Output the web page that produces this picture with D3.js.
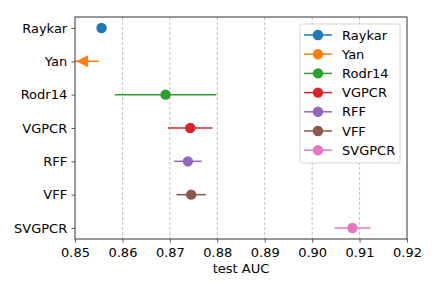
<!DOCTYPE html>
<html>
<head>
<meta charset="utf-8">
<script src="https://cdn.jsdelivr.net/npm/d3@7"></script>
<style>
  body { margin: 0; background: #fff; }
  text { font-family: "DejaVu Sans", sans-serif; }
</style>
</head>
<body>
<svg id="chart" width="436" height="291"></svg>
<script>
// data
const methods = ["Raykar", "Yan", "Rodr14", "VGPCR", "RFF", "VFF", "SVGPCR"];
const meanAUC = [0.8556, 0.8515, 0.8691, 0.8743, 0.8738, 0.8745, 0.9085];
const errAUC  = [0.0004, 0.0035, 0.0107, 0.0047, 0.0029, 0.0031, 0.0038];
const xTicks = [0.85, 0.86, 0.87, 0.88, 0.89, 0.90, 0.91, 0.92];
const colors = ["#1f77b4", "#ff7f0e", "#2ca02c", "#d62728", "#9467bd", "#8c564b", "#e377c2"];

const margin = { top: 17, right: 29, bottom: 52, left: 75 };
const width = 436, height = 291;
const svg = d3.select("#chart");

const x = d3.scaleLinear().domain([0.85, 0.92])
    .range([margin.left, width - margin.right]);
const y = d3.scalePoint().domain(methods)
    .range([margin.top, height - margin.bottom]).padding(0.33);

const rows = methods.map((m, i) => ({ name: m, mean: meanAUC[i], err: errAUC[i], color: colors[i] }));

// grid
svg.append("g").selectAll("line")
    .data(xTicks.slice(1, -1))
    .join("line")
    .attr("x1", d => x(d)).attr("x2", d => x(d))
    .attr("y1", margin.top).attr("y2", height - margin.bottom)
    .attr("stroke", "#b0b0b0").attr("stroke-width", 0.8)
    .attr("stroke-dasharray", "3,2");

// clip for marks
svg.append("clipPath").attr("id", "clip")
  .append("rect")
    .attr("x", margin.left).attr("y", margin.top)
    .attr("width", width - margin.left - margin.right)
    .attr("height", height - margin.top - margin.bottom);

const marks = svg.append("g").attr("clip-path", "url(#clip)");

marks.selectAll(".err")
    .data(rows)
    .join("line")
    .attr("class", "err")
    .attr("x1", d => x(d.mean - d.err)).attr("x2", d => x(d.mean + d.err))
    .attr("y1", d => y(d.name)).attr("y2", d => y(d.name))
    .attr("stroke", d => d.color).attr("stroke-width", 1.5);

marks.selectAll(".pt")
    .data(rows.filter(d => d.name !== "Yan"))
    .join("circle")
    .attr("class", "pt")
    .attr("cx", d => x(d.mean)).attr("cy", d => y(d.name))
    .attr("r", 5.2)
    .attr("fill", d => d.color);

// Yan drawn as left-pointing triangle (matplotlib "<" marker)
const yan = rows[1];
marks.append("path")
    .attr("d", "M-6,0L6,-6L6,6Z")
    .attr("transform", `translate(${x(yan.mean)},${y(yan.name)})`)
    .attr("fill", yan.color);

// axes
const xAxis = svg.append("g")
    .attr("transform", `translate(0,${height - margin.bottom})`)
    .call(d3.axisBottom(x).tickValues(xTicks).tickFormat(d3.format(".2f")).tickSizeOuter(0).tickSize(3.5));
const yAxis = svg.append("g")
    .attr("transform", `translate(${margin.left},0)`)
    .call(d3.axisLeft(y).tickSizeOuter(0).tickSize(3.5));

[xAxis, yAxis].forEach(a => {
  a.select(".domain").remove();
  a.selectAll("line").attr("stroke", "#333").attr("stroke-width", 0.8);
  a.selectAll("text").attr("font-size", 13).attr("fill", "#000")
      .attr("font-family", "DejaVu Sans, sans-serif");
});
xAxis.selectAll("text").attr("dy", "0.9em");
yAxis.selectAll("text").attr("dx", "-0.1em");

// frame
svg.append("rect")
    .attr("x", margin.left).attr("y", margin.top)
    .attr("width", width - margin.left - margin.right)
    .attr("height", height - margin.top - margin.bottom)
    .attr("fill", "none").attr("stroke", "#333").attr("stroke-width", 1);

svg.append("text")
    .attr("x", (x.range()[0] + x.range()[1]) / 2)
    .attr("y", 273)
    .attr("text-anchor", "middle")
    .attr("font-size", 13)
    .text("test AUC");

// legend
const lg = svg.append("g").attr("transform", "translate(300,24)");
lg.append("rect")
    .attr("width", 100).attr("height", 139).attr("rx", 2)
    .attr("fill", "#fff").attr("fill-opacity", 0.8)
    .attr("stroke", "#ccc").attr("stroke-width", 0.8);
const item = lg.selectAll(".item")
    .data(rows)
    .join("g")
    .attr("class", "item")
    .attr("transform", (d, i) => `translate(0,${11 + i * 19.2})`);
item.append("line")
    .attr("x1", 4).attr("x2", 32)
    .attr("stroke", d => d.color).attr("stroke-width", 1.5);
item.append("circle")
    .attr("cx", 18).attr("r", 5.2).attr("fill", d => d.color);
item.append("text")
    .attr("x", 42).attr("dy", "0.35em")
    .attr("font-size", 13)
    .text(d => d.name);
</script>
</body>
</html>
